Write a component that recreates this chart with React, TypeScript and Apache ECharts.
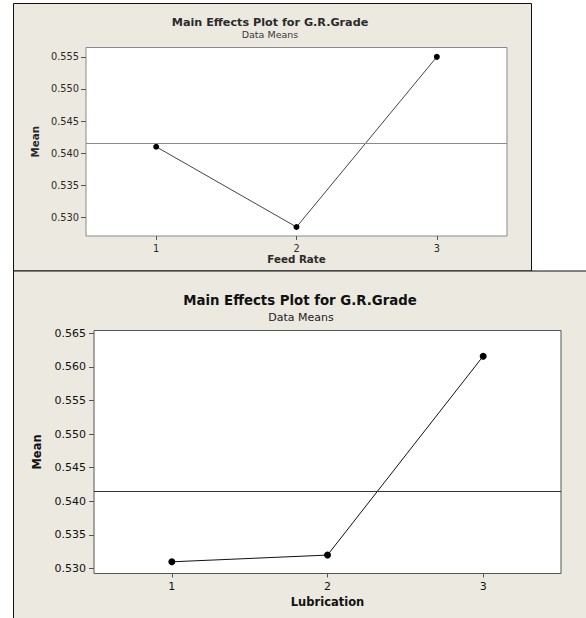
import React, { useEffect, useRef } from "react";
import * as echarts from "echarts";

// Main effects of Feed Rate and Lubrication on G.R.Grade (data means)
const levelLabels = ["1", "2", "3"];
const feedRateMeans = [0.541, 0.5285, 0.555];
const lubricationMeans = [0.531, 0.532, 0.5616];
const grandMean = 0.5415;

const feedRateTicks = [0.53, 0.535, 0.54, 0.545, 0.55, 0.555];
const lubricationTicks = [0.53, 0.535, 0.54, 0.545, 0.55, 0.555, 0.56, 0.565];
const feedRateRange = [0.5271, 0.55646];
const lubricationRange = [0.52926, 0.56542];

const PANEL_BG = "#ECE9E0";
const FONT = "DejaVu Sans";

export default function App() {
  const ref = useRef<HTMLDivElement>(null);

  useEffect(() => {
    if (!ref.current) return;
    const chart = echarts.init(ref.current, null, { renderer: "svg" });

    const text = (
      x: number,
      y: number,
      t: string,
      size: number,
      bold: boolean,
      fill: string
    ) => ({
      type: "text",
      z: 1,
      x,
      y,
      style: {
        text: t,
        fontFamily: FONT,
        fontSize: size,
        fontWeight: bold ? "bold" : "normal",
        fill,
        textAlign: "center",
        textVerticalAlign: "middle",
        align: "center",
        verticalAlign: "middle",
      },
    });

    const valueAxis = (
      gridIndex: number,
      range: number[],
      ticks: number[],
      size: number,
      color: string,
      nameGap: number,
      margin: number
    ) => ({
      type: "value",
      gridIndex,
      min: range[0],
      max: range[1],
      name: "Mean",
      nameLocation: "middle",
      nameGap,
      nameTextStyle: {
        fontFamily: FONT,
        fontWeight: "bold",
        fontSize: size + 0.5,
        color,
      },
      axisLine: { show: false },
      axisTick: {
        show: true,
        length: 5,
        customValues: ticks,
        lineStyle: { color: "#555", width: 1 },
      },
      axisLabel: {
        customValues: ticks,
        margin,
        fontFamily: FONT,
        fontSize: size,
        color,
        formatter: (v: number) => v.toFixed(3),
      },
      splitLine: { show: false },
    });

    const categoryAxis = (
      gridIndex: number,
      name: string,
      size: number,
      color: string,
      nameGap: number
    ) => ({
      type: "category",
      gridIndex,
      data: levelLabels,
      boundaryGap: true,
      name,
      nameLocation: "middle",
      nameGap,
      nameTextStyle: {
        fontFamily: FONT,
        fontWeight: "bold",
        fontSize: size + 0.5,
        color,
      },
      axisLine: { show: false },
      axisTick: {
        show: true,
        alignWithLabel: true,
        length: 4,
        lineStyle: { color: "#555", width: 1 },
      },
      axisLabel: {
        margin: 7,
        fontFamily: FONT,
        fontSize: size,
        color,
      },
      splitLine: { show: false },
    });

    // Horizontal reference line at the grand mean
    const meanLine = (color: string) => ({
      silent: true,
      symbol: "none",
      precision: 6,
      label: { show: false },
      lineStyle: { color, width: 1, type: "solid" },
      data: [{ yAxis: grandMean }],
    });

    chart.setOption({
      animation: false,
      backgroundColor: "#ffffff",
      graphic: [
        {
          type: "rect",
          z: -10,
          shape: { x: 13.5, y: 3.5, width: 518, height: 267.5 },
          style: { fill: PANEL_BG, stroke: "#111", lineWidth: 1 },
        },
        {
          type: "rect",
          z: -10,
          shape: { x: 13.5, y: 271, width: 600, height: 400 },
          style: { fill: PANEL_BG, stroke: "#111", lineWidth: 1 },
        },
        text(270, 22.5, "Main Effects Plot for G.R.Grade", 11.2, true, "#2a2a2a"),
        text(270, 34.5, "Data Means", 9.5, false, "#3a3a3a"),
        text(300, 300.5, "Main Effects Plot for G.R.Grade", 13.3, true, "#111"),
        text(301, 317.5, "Data Means", 11, false, "#222"),
      ],
      grid: [
        {
          left: 86,
          top: 47.5,
          width: 421,
          height: 188.5,
          show: true,
          backgroundColor: "#ffffff",
          borderColor: "#8a8a8a",
          borderWidth: 1,
        },
        {
          left: 94,
          top: 330.5,
          width: 467,
          height: 243,
          show: true,
          backgroundColor: "#ffffff",
          borderColor: "#555",
          borderWidth: 1,
        },
      ],
      xAxis: [
        categoryAxis(0, "Feed Rate", 9.8, "#2a2a2a", 18),
        categoryAxis(1, "Lubrication", 11, "#111", 22),
      ],
      yAxis: [
        valueAxis(0, feedRateRange, feedRateTicks, 9.8, "#2a2a2a", 46, 7),
        valueAxis(1, lubricationRange, lubricationTicks, 11, "#111", 51, 8),
      ],
      series: [
        {
          type: "line",
          xAxisIndex: 0,
          yAxisIndex: 0,
          data: feedRateMeans,
          symbol: "circle",
          symbolSize: 6,
          itemStyle: { color: "#000" },
          lineStyle: { color: "#444", width: 1 },
          markLine: meanLine("#8a8a8a"),
        },
        {
          type: "line",
          xAxisIndex: 1,
          yAxisIndex: 1,
          data: lubricationMeans,
          symbol: "circle",
          symbolSize: 7,
          itemStyle: { color: "#000" },
          lineStyle: { color: "#111", width: 1 },
          markLine: meanLine("#333"),
        },
      ],
    });

    return () => chart.dispose();
  }, []);

  return (
    <div
      ref={ref}
      style={{ position: "fixed", left: 0, top: 0, width: 586, height: 618 }}
    />
  );
}
